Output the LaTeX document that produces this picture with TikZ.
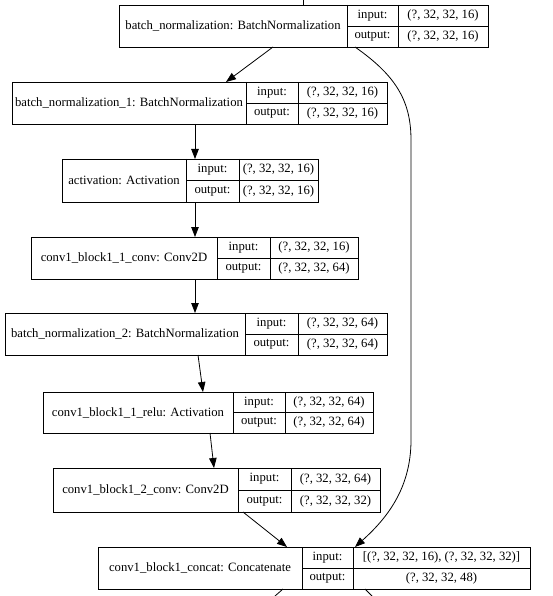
\documentclass[tikz,border=0pt]{standalone}
\usepackage{fontspec}
\setmainfont{Liberation Serif}
\usetikzlibrary{arrows.meta}
\tikzset{
  box/.style={draw, line width=0.8pt, inner sep=0pt, outer sep=0pt},
  cell/.style={line width=0.8pt},
  txt/.style={inner sep=0pt, font=\fontsize{12.7}{14}\selectfont},
  edge/.style={line width=0.8pt, -{Triangle[length=10pt,width=7.5pt]}},
  plain/.style={line width=0.8pt},
}
% name, L, T, R, B, d1, d2, label, input shape
\newcommand\recbox[9]{%
  \node[box, minimum width={#4-#2}, minimum height={#5-#3}] (#1) at ({(#2+#4)/2},{(#3+#5)/2}) {};
  \node[txt] (#1-l) at ({(#2+#6)/2},{(#3+#5)/2}) {#8};
  \draw[cell] (#6,#3) -- (#6,#5);
  \draw[cell] (#7,#3) -- (#7,#5);
  \draw[cell] (#6,{(#3+#5)/2}) -- (#4,{(#3+#5)/2});
  \node[txt] (#1-i) at ({(#6+#7)/2},{(3*#3+#5)/4}) {input:};
  \node[txt] (#1-o) at ({(#6+#7)/2},{(#3+3*#5)/4}) {output:};
  \node[txt] (#1-in) at ({(#7+#4)/2},{(3*#3+#5)/4}) {#9};
}
\begin{document}
\begin{tikzpicture}[x=1pt,y=-1pt]
\useasboundingbox (0,0) rectangle (552,596);

\recbox{b1}{119}{5}{488}{47}{347}{398}{batch\_normalization: BatchNormalization}{(?, 32, 32, 16)}
\node[txt] (b1-out) at (b1-in |- b1-o) {(?, 32, 32, 16)};

\recbox{b2}{12}{82}{387}{124}{246}{298}{batch\_normalization\_1: BatchNormalization}{(?, 32, 32, 16)}
\node[txt] (b2-out) at (b2-in |- b2-o) {(?, 32, 32, 16)};

\recbox{b3}{62}{159}{318}{202}{186}{239}{activation: Activation}{(?, 32, 32, 16)}
\node[txt] (b3-out) at (b3-in |- b3-o) {(?, 32, 32, 16)};

\recbox{b4}{31}{237}{358}{279}{217}{270}{conv1\_block1\_1\_conv: Conv2D}{(?, 32, 32, 16)}
\node[txt] (b4-out) at (b4-in |- b4-o) {(?, 32, 32, 64)};

\recbox{b5}{5}{313}{387}{355}{245}{298}{batch\_normalization\_2: BatchNormalization}{(?, 32, 32, 64)}
\node[txt] (b5-out) at (b5-in |- b5-o) {(?, 32, 32, 64)};

\recbox{b6}{43}{392}{373}{433}{233}{285}{conv1\_block1\_1\_relu: Activation}{(?, 32, 32, 64)}
\node[txt] (b6-out) at (b6-in |- b6-o) {(?, 32, 32, 64)};

\recbox{b7}{53}{468}{380}{512}{238}{291}{conv1\_block1\_2\_conv: Conv2D}{(?, 32, 32, 64)}
\node[txt] (b7-out) at (b7-in |- b7-o) {(?, 32, 32, 32)};

\recbox{b8}{98}{547}{530}{589}{302}{353}{conv1\_block1\_concat: Concatenate}{[(?, 32, 32, 16), (?, 32, 32, 32)]}
\node[txt] (b8-out) at (b8-in |- b8-o) {(?, 32, 32, 48)};

% incoming stub at top
\coordinate (top) at (303,0);
\draw[plain] (top) -- (b1.north -| top);

% connectors
\draw[edge] (b1.south -| 273,0) -- (b2.north -| 226,0);
\draw[edge] (b2.south -| 195,0) -- (b3.north -| 195,0);
\draw[edge] (b3.south -| 195,0) -- (b4.north -| 195,0);
\draw[edge] (b4.south -| 195,0) -- (b5.north -| 195,0);
\draw[edge] (b5.south -| 198,0) -- (b6.north -| 203,0);
\draw[edge] (b6.south -| 210,0) -- (b7.north -| 214,0);
\draw[edge] (b7.south -| 243,0) -- (b8.north -| 287,0);
\draw[edge] (b1.south -| 355,0) .. controls (395,75) and (411,100) .. (411,140)
  -- (411,440) .. controls (411,490) and (385,520) .. (b8.north -| 355,0);

% outgoing stubs at bottom
\coordinate (o1) at (275,596);
\coordinate (o2) at (372,596);
\draw[plain] (b8.south -| 283,0) -- (o1);
\draw[plain] (b8.south -| 365,0) -- (o2);
\end{tikzpicture}
\end{document}
